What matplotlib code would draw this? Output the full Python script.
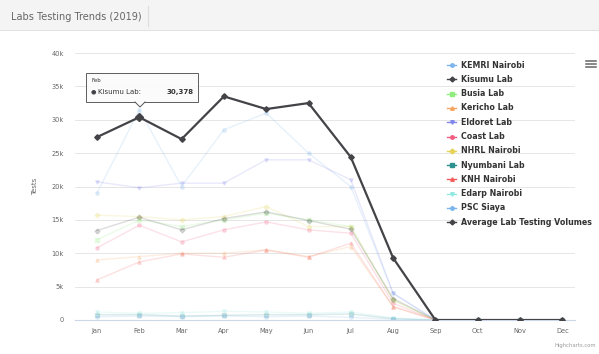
import numpy as np
import matplotlib
matplotlib.use("Agg")
import matplotlib.pyplot as plt
from matplotlib.lines import Line2D
from matplotlib.patches import Rectangle, Polygon

W, H = 599, 354

months = ["Jan", "Feb", "Mar", "Apr", "May", "Jun", "Jul", "Aug", "Sep", "Oct", "Nov", "Dec"]

labs = ["KEMRI Nairobi", "Kisumu Lab", "Busia Lab", "Kericho Lab", "Eldoret Lab", "Coast Lab",
        "NHRL Nairobi", "Nyumbani Lab", "KNH Nairobi", "Edarp Nairobi", "PSC Siaya",
        "Average Lab Testing Volumes"]

kemri_nairobi = [19000, 31500, 20000, 28500, 31000, 25000, 20000, 4000, 0, 0, 0, 0]
kisumu_lab = [27400, 30378, 27100, 33500, 31600, 32500, 24400, 9300, 0, 0, 0, 0]
busia_lab = [12000, 15000, 14000, 15000, 16000, 15000, 14000, 3000, 0, 0, 0, 0]
kericho_lab = [9000, 9500, 10000, 10000, 10500, 9500, 11000, 2000, 0, 0, 0, 0]
eldoret_lab = [20700, 19800, 20500, 20500, 24000, 24000, 21000, 4000, 0, 0, 0, 0]
coast_lab = [10800, 14200, 11700, 13500, 14700, 13500, 13000, 2500, 0, 0, 0, 0]
nhrl_nairobi = [15700, 15500, 15000, 15500, 17000, 14000, 14000, 3000, 0, 0, 0, 0]
nyumbani_lab = [800, 800, 600, 700, 800, 800, 900, 200, 0, 0, 0, 0]
knh_nairobi = [6000, 8700, 9900, 9400, 10500, 9400, 11500, 2000, 0, 0, 0, 0]
edarp_nairobi = [1200, 1000, 1100, 1300, 1200, 1000, 1200, 300, 0, 0, 0, 0]
psc_siaya = [500, 600, 500, 600, 500, 600, 400, 100, 0, 0, 0, 0]
average = [13400, 15400, 13500, 15200, 16200, 14900, 13600, 3200, 0, 0, 0, 0]

series = [kemri_nairobi, kisumu_lab, busia_lab, kericho_lab, eldoret_lab, coast_lab,
          nhrl_nairobi, nyumbani_lab, knh_nairobi, edarp_nairobi, psc_siaya, average]
colors = ["#7cb5ec", "#434348", "#90ed7d", "#f7a35c", "#8085e9", "#f15c80",
          "#e4d354", "#2b908f", "#f45b5b", "#91e8e1", "#7cb5ec", "#434348"]
markers = ["o", "D", "s", "^", "v", "o", "D", "s", "^", "v", "o", "D"]
hovered = 1


def fx(x):
    return x / W


def fy(y):
    return 1 - y / H


fig = plt.figure(figsize=(W / 100, H / 100), dpi=100)
fig.patch.set_facecolor("white")

# header bar
fig.patches.append(Rectangle((0, fy(30)), 1, 1 - fy(30), transform=fig.transFigure,
                             facecolor="#f4f4f4", edgecolor="none", zorder=0))
fig.lines.append(Line2D([0, 1], [fy(30), fy(30)], transform=fig.transFigure, color="#e2e2e2", lw=0.8))
fig.lines.append(Line2D([fx(148), fx(148)], [fy(6), fy(26)], transform=fig.transFigure, color="#dddddd", lw=0.8))
fig.text(fx(11), fy(17), "Labs Testing Trends (2019)", fontsize=7, color="#666666", va="center")

# plot area
ax = fig.add_axes([fx(75), fy(320), fx(575) - fx(75), fy(53) - fy(320)])
x = np.arange(len(months))
for i, (vals, c, mk) in enumerate(zip(series, colors, markers)):
    if i == hovered:
        continue
    ax.plot(x, vals, color=c, lw=1.0, marker=mk, ms=2.5, alpha=0.18, zorder=2)
ax.plot(x, series[hovered], color=colors[hovered], lw=1.6, marker=markers[hovered], ms=2.8, zorder=5)
ax.plot(x[1], series[hovered][1], marker="D", ms=4.5, color=colors[hovered], zorder=6)

ax.set_xlim(-0.52, 11.3)
ax.set_ylim(0, 40000)
yt = np.arange(0, 40001, 5000)
ax.set_yticks(yt)
ax.set_yticklabels(["0"] + ["%dk" % (v // 1000) for v in yt[1:]])
ax.set_xticks(x)
ax.set_xticklabels(months)
ax.tick_params(axis="y", length=0, labelsize=4.8, labelcolor="#666666", pad=8)
ax.tick_params(axis="x", length=0, labelsize=4.8, labelcolor="#666666", pad=6)
ax.grid(axis="y", color="#e6e6e6", lw=0.7)
ax.set_axisbelow(True)
for s in ["top", "right", "left"]:
    ax.spines[s].set_visible(False)
ax.spines["bottom"].set_color("#ccd6eb")
ax.spines["bottom"].set_linewidth(0.8)
ax.set_ylabel("Tests", fontsize=5, color="#666666", labelpad=10)

# legend
for i, (name, c, mk) in enumerate(zip(labs, colors, markers)):
    yy = fy(65 + i * 14.3)
    fig.lines.append(Line2D([fx(447), fx(456)], [yy, yy], transform=fig.transFigure, color=c, lw=1.0))
    fig.lines.append(Line2D([fx(451.5)], [yy], transform=fig.transFigure, color=c, marker=mk, ms=2.5))
    fig.text(fx(461), yy, name, fontsize=5.7, fontweight="bold", color="#333333", va="center")

# menu icon
for dy in (-3, 0, 3):
    fig.lines.append(Line2D([fx(586), fx(596)], [fy(64 + dy), fy(64 + dy)], transform=fig.transFigure,
                            color="#666666", lw=1.1))

# tooltip
fig.patches.append(Rectangle((fx(86), fy(102)), fx(198) - fx(86), fy(73) - fy(102), transform=fig.transFigure,
                             facecolor="#fbfbfb", edgecolor="#555555", lw=0.7, alpha=0.95, zorder=10))
fig.patches.append(Polygon([[fx(135), fy(101.6)], [fx(145), fy(101.6)], [fx(140), fy(107)]], closed=True,
                           transform=fig.transFigure, facecolor="#fbfbfb", edgecolor="none", zorder=11))
fig.lines.append(Line2D([fx(135), fx(140), fx(145)], [fy(102), fy(107), fy(102)], transform=fig.transFigure,
                        color="#555555", lw=0.7, zorder=12))
fig.text(fx(91), fy(81), "Feb", fontsize=4, color="#333333", va="center", zorder=13)
fig.text(fx(91), fy(92), "\u25CF", fontsize=4.5, color="#434348", va="center", zorder=13)
fig.text(fx(98), fy(92), "Kisumu Lab:", fontsize=5, color="#333333", va="center", zorder=13)
fig.text(fx(194), fy(92), "30,378", fontsize=5, fontweight="bold", color="#333333", va="center",
         ha="right", zorder=13)

# credits
fig.text(fx(596), fy(346), "Highcharts.com", fontsize=3.8, color="#999999", ha="right", va="center")

fig.savefig("out.png", dpi=100)
